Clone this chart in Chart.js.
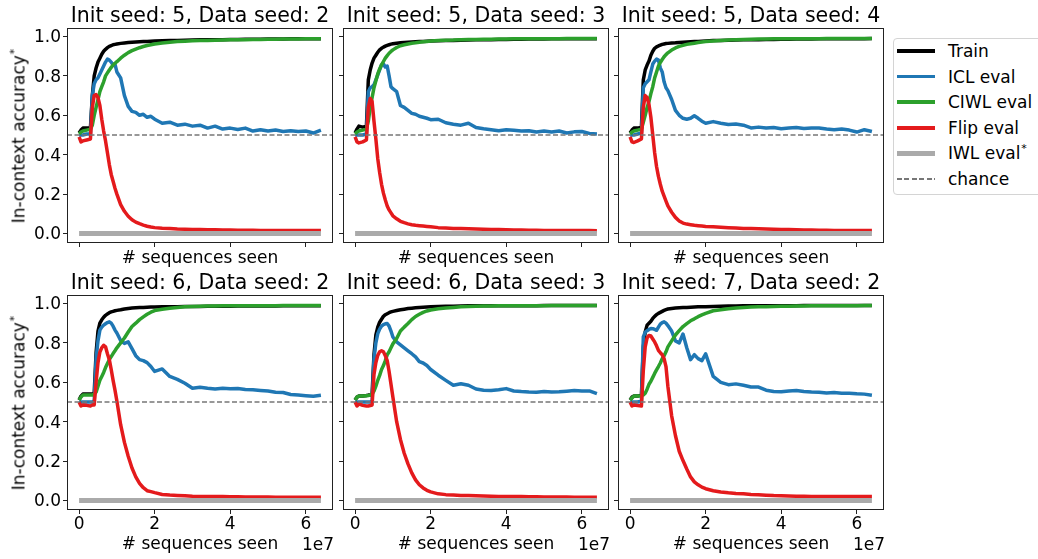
<!DOCTYPE html>
<html>
<head>
<meta charset="utf-8">
<script src="https://cdn.jsdelivr.net/npm/chart.js@4.4.0/dist/chart.umd.min.js"></script>
<style>
  body { margin: 0; width: 1038px; height: 559px; overflow: hidden; background: #fff;
         font-family: 'DejaVu Sans', sans-serif; position: relative; color: #000; }
  .panel { position: absolute; }
  .ylab { position: absolute; font-size: 17px; white-space: nowrap; line-height: 20px;
          transform: translate(-50%, -50%) rotate(-90deg); }
  .star { font-size: 11px; position: relative; top: -7px; margin-left: 1px; }
  .offset { position: absolute; font-size: 17px; line-height: 20px; }
  #legendBox { position: absolute; left: 893px; top: 38px; width: 170px; height: 155px;
               border: 1px solid #d4d4d4; border-radius: 4px; background: #fff; }
  .lgItem { position: absolute; left: 948px; font-size: 17px; line-height: 20px; white-space: nowrap; }
  .lgLine { position: absolute; left: 897px; width: 38px; }
</style>
</head>
<body>
<div id="legendBox"></div>
<script>
// x in units of 1e7 sequences
const xs = [0, 0.05, 0.1, 0.2, 0.3,
  0.35, 0.4, 0.45, 0.5, 0.55, 0.6, 0.65, 0.7, 0.75, 0.8, 0.85, 0.9, 0.95, 1.0,
  1.1, 1.2, 1.3, 1.4, 1.5, 1.6, 1.7, 1.8, 1.9, 2.0,
  2.2, 2.4, 2.6, 2.8, 3.0, 3.2, 3.4, 3.6, 3.8, 4.0, 4.2, 4.4, 4.6, 4.8, 5.0, 5.2, 5.4, 5.6, 5.8, 6.0, 6.2, 6.4];

const iwlEval = [0, 0, 0, 0, 0,
  0, 0, 0, 0, 0, 0, 0, 0, 0, 0, 0, 0, 0, 0,
  0, 0, 0, 0, 0, 0, 0, 0, 0, 0,
  0, 0, 0, 0, 0, 0, 0, 0, 0, 0, 0, 0, 0, 0, 0, 0, 0, 0, 0, 0, 0, 0];

// Init seed 5, data seed 2
const train_5_2 = [0.51, 0.525, 0.535, 0.535, 0.535,
  0.70, 0.80, 0.84, 0.87, 0.89, 0.91, 0.925, 0.935, 0.943, 0.95, 0.954, 0.958, 0.96, 0.962,
  0.965, 0.967, 0.969, 0.971, 0.972, 0.973, 0.974, 0.975, 0.976, 0.977,
  0.978, 0.979, 0.98, 0.981, 0.982, 0.983, 0.983, 0.984, 0.984, 0.985, 0.985, 0.986, 0.986, 0.986, 0.987, 0.987, 0.987, 0.988, 0.988, 0.988, 0.988, 0.988];
const icl_5_2 = [0.5, 0.5, 0.5, 0.505, 0.505,
  0.70, 0.76, 0.78, 0.79, 0.81, 0.83, 0.85, 0.87, 0.885, 0.88, 0.87, 0.855, 0.86, 0.82,
  0.79, 0.70, 0.645, 0.62, 0.615, 0.60, 0.605, 0.59, 0.595, 0.58,
  0.56, 0.565, 0.55, 0.555, 0.545, 0.55, 0.535, 0.545, 0.53, 0.535, 0.528, 0.535, 0.52, 0.527, 0.52, 0.525, 0.518, 0.522, 0.518, 0.52, 0.51, 0.525];
const ciwl_5_2 = [0.505, 0.515, 0.52, 0.525, 0.53,
  0.55, 0.6, 0.64, 0.68, 0.72, 0.745, 0.77, 0.8, 0.815, 0.83, 0.843, 0.855, 0.864, 0.872,
  0.89, 0.905, 0.918, 0.928, 0.936, 0.943, 0.949, 0.954, 0.958, 0.962,
  0.967, 0.971, 0.974, 0.976, 0.978, 0.979, 0.98, 0.981, 0.982, 0.983, 0.984, 0.984, 0.985, 0.985, 0.986, 0.986, 0.987, 0.987, 0.987, 0.988, 0.988, 0.988];
const flip_5_2 = [0.49, 0.465, 0.47, 0.475, 0.48,
  0.64, 0.70, 0.705, 0.69, 0.65, 0.58, 0.52, 0.47, 0.41, 0.35, 0.30, 0.265, 0.23, 0.20,
  0.147, 0.113, 0.088, 0.07, 0.058, 0.05, 0.043, 0.037, 0.033, 0.03,
  0.027, 0.025, 0.023, 0.022, 0.021, 0.02, 0.019, 0.019, 0.018, 0.018, 0.017, 0.017, 0.017, 0.016, 0.016, 0.016, 0.016, 0.015, 0.015, 0.015, 0.015, 0.015];

// Init seed 5, data seed 3
const train_5_3 = [0.51, 0.53, 0.545, 0.54, 0.545,
  0.78, 0.83, 0.865, 0.89, 0.905, 0.92, 0.932, 0.94, 0.946, 0.951, 0.955, 0.958, 0.961, 0.963,
  0.966, 0.968, 0.97, 0.971, 0.972, 0.973, 0.974, 0.975, 0.976, 0.977,
  0.978, 0.979, 0.98, 0.981, 0.982, 0.983, 0.983, 0.984, 0.985, 0.985, 0.986, 0.986, 0.987, 0.987, 0.987, 0.988, 0.988, 0.988, 0.989, 0.989, 0.989, 0.989];
const icl_5_3 = [0.5, 0.5, 0.5, 0.5, 0.505,
  0.72, 0.74, 0.745, 0.755, 0.78, 0.805, 0.83, 0.856, 0.86, 0.845, 0.85, 0.80, 0.745, 0.735,
  0.72, 0.65, 0.64, 0.625, 0.61, 0.605, 0.595, 0.59, 0.585, 0.578,
  0.58, 0.562, 0.555, 0.55, 0.56, 0.538, 0.532, 0.527, 0.522, 0.527, 0.524, 0.52, 0.522, 0.515, 0.52, 0.515, 0.52, 0.51, 0.516, 0.518, 0.508, 0.505];
const ciwl_5_3 = [0.505, 0.515, 0.52, 0.525, 0.53,
  0.57, 0.64, 0.69, 0.74, 0.775, 0.81, 0.835, 0.856, 0.873, 0.89, 0.903, 0.915, 0.924, 0.932,
  0.944, 0.953, 0.958, 0.962, 0.966, 0.968, 0.971, 0.973, 0.975, 0.977,
  0.979, 0.981, 0.982, 0.984, 0.985, 0.985, 0.986, 0.986, 0.987, 0.987, 0.988, 0.988, 0.988, 0.989, 0.989, 0.989, 0.989, 0.99, 0.99, 0.99, 0.99, 0.99];
const flip_5_3 = [0.49, 0.465, 0.46, 0.465, 0.475,
  0.64, 0.685, 0.67, 0.57, 0.48, 0.38, 0.31, 0.25, 0.205, 0.17, 0.14, 0.12, 0.105, 0.09,
  0.075, 0.062, 0.055, 0.049, 0.045, 0.042, 0.04, 0.038, 0.036, 0.034,
  0.03, 0.028, 0.026, 0.025, 0.024, 0.023, 0.022, 0.021, 0.02, 0.019, 0.018, 0.018, 0.017, 0.017, 0.016, 0.016, 0.016, 0.015, 0.015, 0.015, 0.015, 0.014];

// Init seed 5, data seed 4
const train_5_4 = [0.51, 0.525, 0.535, 0.535, 0.54,
  0.78, 0.83, 0.855, 0.875, 0.905, 0.925, 0.94, 0.947, 0.952, 0.956, 0.96, 0.962, 0.964, 0.965,
  0.967, 0.968, 0.97, 0.971, 0.972, 0.973, 0.974, 0.975, 0.976, 0.977,
  0.979, 0.98, 0.981, 0.982, 0.983, 0.984, 0.984, 0.985, 0.985, 0.986, 0.986, 0.987, 0.987, 0.987, 0.988, 0.988, 0.988, 0.989, 0.989, 0.989, 0.989, 0.99];
const icl_5_4 = [0.5, 0.5, 0.5, 0.505, 0.51,
  0.74, 0.76, 0.77, 0.78, 0.82, 0.86, 0.875, 0.885, 0.88, 0.84, 0.82, 0.77, 0.74, 0.725,
  0.68, 0.625, 0.60, 0.585, 0.58, 0.585, 0.598, 0.585, 0.57, 0.56,
  0.568, 0.56, 0.553, 0.556, 0.55, 0.536, 0.54, 0.535, 0.538, 0.532, 0.535, 0.538, 0.533, 0.535, 0.535, 0.53, 0.527, 0.53, 0.525, 0.515, 0.527, 0.518];
const ciwl_5_4 = [0.505, 0.515, 0.52, 0.525, 0.53,
  0.565, 0.6, 0.64, 0.67, 0.71, 0.745, 0.79, 0.82, 0.85, 0.868, 0.883, 0.897, 0.908, 0.917,
  0.931, 0.942, 0.95, 0.955, 0.96, 0.963, 0.966, 0.969, 0.972, 0.974,
  0.977, 0.98, 0.982, 0.984, 0.985, 0.986, 0.987, 0.987, 0.988, 0.988, 0.988, 0.989, 0.989, 0.989, 0.989, 0.99, 0.99, 0.99, 0.99, 0.99, 0.99, 0.99];
const flip_5_4 = [0.49, 0.465, 0.462, 0.47, 0.48,
  0.64, 0.70, 0.69, 0.655, 0.59, 0.50, 0.41, 0.34, 0.29, 0.25, 0.215, 0.19, 0.165, 0.14,
  0.108, 0.082, 0.064, 0.053, 0.048, 0.045, 0.042, 0.04, 0.038, 0.036,
  0.034, 0.032, 0.03, 0.028, 0.026, 0.025, 0.024, 0.023, 0.022, 0.021, 0.02, 0.019, 0.018, 0.018, 0.017, 0.017, 0.016, 0.016, 0.016, 0.015, 0.015, 0.015];

// Init seed 6, data seed 2
const train_6_2 = [0.51, 0.53, 0.54, 0.54, 0.54,
  0.54, 0.545, 0.75, 0.86, 0.9, 0.917, 0.93, 0.94, 0.947, 0.953, 0.957, 0.96, 0.963, 0.965,
  0.968, 0.972, 0.975, 0.977, 0.978, 0.979, 0.98, 0.981, 0.982, 0.982,
  0.983, 0.984, 0.984, 0.985, 0.985, 0.985, 0.986, 0.986, 0.986, 0.986, 0.987, 0.987, 0.987, 0.987, 0.987, 0.987, 0.988, 0.988, 0.988, 0.988, 0.988, 0.988];
const icl_6_2 = [0.5, 0.5, 0.5, 0.5, 0.5,
  0.5, 0.505, 0.72, 0.81, 0.865, 0.88, 0.89, 0.897, 0.903, 0.907, 0.9, 0.885, 0.865, 0.85,
  0.812, 0.797, 0.805, 0.771, 0.735, 0.715, 0.71, 0.70, 0.68, 0.655,
  0.668, 0.63, 0.615, 0.595, 0.57, 0.575, 0.57, 0.566, 0.57, 0.567, 0.568, 0.563, 0.562, 0.559, 0.556, 0.55, 0.548, 0.538, 0.535, 0.532, 0.529, 0.534];
const ciwl_6_2 = [0.51, 0.525, 0.535, 0.535, 0.535,
  0.535, 0.54, 0.55, 0.58, 0.61, 0.63, 0.65, 0.675, 0.695, 0.715, 0.73, 0.746, 0.76, 0.775,
  0.80, 0.825, 0.855, 0.883, 0.90, 0.918, 0.932, 0.945, 0.956, 0.964,
  0.971, 0.976, 0.98, 0.983, 0.985, 0.986, 0.987, 0.987, 0.988, 0.988, 0.988, 0.989, 0.989, 0.989, 0.989, 0.989, 0.99, 0.99, 0.99, 0.99, 0.99, 0.99];
const flip_6_2 = [0.5, 0.48, 0.485, 0.483, 0.48,
  0.485, 0.485, 0.6, 0.70, 0.754, 0.775, 0.788, 0.78, 0.745, 0.715, 0.665, 0.61, 0.56, 0.505,
  0.385, 0.295, 0.225, 0.165, 0.12, 0.087, 0.065, 0.05, 0.045, 0.04,
  0.031, 0.028, 0.026, 0.024, 0.022, 0.021, 0.021, 0.02, 0.02, 0.019, 0.019, 0.018, 0.018, 0.018, 0.018, 0.017, 0.017, 0.017, 0.017, 0.017, 0.017, 0.017];

// Init seed 6, data seed 3
const train_6_3 = [0.51, 0.525, 0.53, 0.53, 0.533,
  0.535, 0.535, 0.54, 0.74, 0.84, 0.88, 0.905, 0.92, 0.935, 0.943, 0.948, 0.953, 0.957, 0.96,
  0.964, 0.968, 0.971, 0.974, 0.976, 0.978, 0.98, 0.981, 0.982, 0.983,
  0.985, 0.986, 0.986, 0.987, 0.988, 0.988, 0.988, 0.988, 0.989, 0.989, 0.989, 0.989, 0.989, 0.989, 0.99, 0.99, 0.99, 0.99, 0.99, 0.99, 0.99, 0.99];
const icl_6_3 = [0.5, 0.5, 0.5, 0.5, 0.5,
  0.5, 0.5, 0.505, 0.72, 0.80, 0.847, 0.87, 0.885, 0.893, 0.897, 0.898, 0.885, 0.86, 0.83,
  0.805, 0.79, 0.775, 0.76, 0.745, 0.729, 0.705, 0.698, 0.685, 0.665,
  0.636, 0.61, 0.585, 0.593, 0.585, 0.566, 0.56, 0.559, 0.562, 0.568, 0.556, 0.553, 0.551, 0.55, 0.553, 0.551, 0.552, 0.555, 0.558, 0.556, 0.556, 0.542];
const ciwl_6_3 = [0.51, 0.525, 0.53, 0.53, 0.532,
  0.533, 0.535, 0.54, 0.555, 0.58, 0.61, 0.635, 0.665, 0.685, 0.71, 0.74, 0.755, 0.775, 0.795,
  0.822, 0.86, 0.88, 0.898, 0.918, 0.934, 0.945, 0.955, 0.962, 0.967,
  0.973, 0.977, 0.98, 0.983, 0.985, 0.986, 0.987, 0.987, 0.988, 0.988, 0.988, 0.989, 0.989, 0.989, 0.989, 0.99, 0.99, 0.99, 0.99, 0.99, 0.99, 0.99];
const flip_6_3 = [0.5, 0.48, 0.49, 0.483, 0.48,
  0.48, 0.482, 0.485, 0.64, 0.70, 0.737, 0.755, 0.76, 0.755, 0.735, 0.71, 0.655, 0.59, 0.525,
  0.40, 0.31, 0.24, 0.186, 0.14, 0.105, 0.08, 0.064, 0.052, 0.044,
  0.034, 0.03, 0.028, 0.026, 0.025, 0.024, 0.023, 0.022, 0.021, 0.021, 0.02, 0.02, 0.019, 0.019, 0.018, 0.018, 0.018, 0.018, 0.017, 0.017, 0.017, 0.017];

// Init seed 7, data seed 2
const train_7_2 = [0.51, 0.525, 0.53, 0.53, 0.535,
  0.78, 0.855, 0.89, 0.90, 0.91, 0.924, 0.935, 0.943, 0.95, 0.955, 0.96, 0.965, 0.969, 0.972,
  0.975, 0.977, 0.978, 0.979, 0.98, 0.981, 0.982, 0.983, 0.984, 0.984,
  0.985, 0.986, 0.987, 0.987, 0.988, 0.988, 0.988, 0.989, 0.989, 0.989, 0.989, 0.989, 0.99, 0.99, 0.99, 0.99, 0.99, 0.99, 0.99, 0.99, 0.99, 0.99];
const icl_7_2 = [0.5, 0.5, 0.5, 0.5, 0.505,
  0.83, 0.855, 0.862, 0.868, 0.873, 0.872, 0.868, 0.864, 0.88, 0.895, 0.903, 0.907, 0.9, 0.888,
  0.86, 0.81, 0.80, 0.845, 0.775, 0.715, 0.74, 0.72, 0.71, 0.745,
  0.63, 0.60, 0.588, 0.592, 0.585, 0.576, 0.576, 0.56, 0.553, 0.552, 0.556, 0.558, 0.553, 0.551, 0.55, 0.546, 0.548, 0.545, 0.545, 0.542, 0.54, 0.534];
const ciwl_7_2 = [0.51, 0.52, 0.53, 0.53, 0.532,
  0.536, 0.545, 0.565, 0.59, 0.605, 0.625, 0.645, 0.663, 0.68, 0.698, 0.72, 0.735, 0.755, 0.78,
  0.81, 0.84, 0.862, 0.883, 0.898, 0.912, 0.922, 0.933, 0.942, 0.95,
  0.963, 0.968, 0.973, 0.977, 0.98, 0.982, 0.983, 0.984, 0.985, 0.986, 0.986, 0.987, 0.987, 0.988, 0.988, 0.988, 0.989, 0.989, 0.989, 0.989, 0.99, 0.99];
const flip_7_2 = [0.5, 0.48, 0.485, 0.482, 0.48,
  0.66, 0.78, 0.825, 0.838, 0.835, 0.82, 0.805, 0.785, 0.762, 0.75, 0.74, 0.72, 0.68, 0.58,
  0.43, 0.33, 0.25, 0.203, 0.16, 0.12, 0.095, 0.08, 0.068, 0.06,
  0.05, 0.043, 0.039, 0.036, 0.034, 0.031, 0.029, 0.027, 0.025, 0.024, 0.023, 0.022, 0.022, 0.021, 0.021, 0.02, 0.02, 0.02, 0.02, 0.02, 0.02, 0.02];

const xTicks = [0, 2, 4, 6];
const yTicks = [0, 0.2, 0.4, 0.6, 0.8, 1.0];
const xLimits = [-0.32, 6.72];
const yLimits = [-0.048, 1.043];
const chanceLevel = 0.5;

const seriesNames = ['Train', 'ICL eval', 'CIWL eval', 'Flip eval', 'IWL eval'];
const seriesColors = ['#000000', '#1f77b4', '#2ca02c', '#e41a1c', '#aaaaaa'];
const seriesWidths = [3.5, 3.5, 3.5, 3.5, 5];

const runs = [
  { title: 'Init seed: 5, Data seed: 2', series: [train_5_2, icl_5_2, ciwl_5_2, flip_5_2, iwlEval] },
  { title: 'Init seed: 5, Data seed: 3', series: [train_5_3, icl_5_3, ciwl_5_3, flip_5_3, iwlEval] },
  { title: 'Init seed: 5, Data seed: 4', series: [train_5_4, icl_5_4, ciwl_5_4, flip_5_4, iwlEval] },
  { title: 'Init seed: 6, Data seed: 2', series: [train_6_2, icl_6_2, ciwl_6_2, flip_6_2, iwlEval] },
  { title: 'Init seed: 6, Data seed: 3', series: [train_6_3, icl_6_3, ciwl_6_3, flip_6_3, iwlEval] },
  { title: 'Init seed: 7, Data seed: 2', series: [train_7_2, icl_7_2, ciwl_7_2, flip_7_2, iwlEval] }
];

// layout
const FONT = 'DejaVu Sans';
const colLeft = [67, 343, 618];
const rowTop = [28, 295];
const AX_W = 266, AX_H = 215;
const Y_AXIS_W = 60, TITLE_H = 28, RIGHT_PAD = 10;
const xAxisH = [26, 45];

const framePlugin = {
  id: 'frame',
  afterDraw(chart) {
    const { ctx, chartArea: a } = chart;
    ctx.save();
    ctx.strokeStyle = '#222';
    ctx.lineWidth = 1;
    const l = Math.round(a.left) + 0.5, t = Math.round(a.top) + 0.5;
    const r = Math.round(a.right) - 0.5, b = Math.round(a.bottom) - 0.5;
    ctx.strokeRect(l, t, r - l, b - t);
    ctx.restore();
  }
};

runs.forEach((run, k) => {
  const row = Math.floor(k / 3), col = k % 3;
  const bottomRow = row === 1, leftCol = col === 0;
  const w = Y_AXIS_W + AX_W + RIGHT_PAD;
  const h = TITLE_H + AX_H + xAxisH[row];

  const div = document.createElement('div');
  div.className = 'panel';
  div.style.left = (colLeft[col] - Y_AXIS_W) + 'px';
  div.style.top = (rowTop[row] - TITLE_H) + 'px';
  const canvas = document.createElement('canvas');
  canvas.width = w; canvas.height = h;
  div.appendChild(canvas);
  document.body.appendChild(div);

  const datasets = run.series.map((ys, i) => ({
    label: seriesNames[i],
    data: xs.map((x, j) => ({ x: x, y: ys[j] })),
    borderColor: seriesColors[i],
    borderWidth: seriesWidths[i],
    pointRadius: 0,
    tension: 0,
    borderJoinStyle: 'round',
    order: 5 - i
  }));
  datasets.push({
    label: 'chance',
    data: [{ x: xLimits[0], y: chanceLevel }, { x: xLimits[1], y: chanceLevel }],
    borderColor: '#777777',
    borderWidth: 1.3,
    borderDash: [5, 2.5],
    pointRadius: 0,
    order: 0
  });

  new Chart(canvas, {
    type: 'line',
    data: { datasets: datasets },
    options: {
      responsive: false,
      animation: false,
      layout: { padding: { left: 0, right: RIGHT_PAD, top: 0, bottom: 0 } },
      plugins: {
        legend: { display: false },
        tooltip: { enabled: false },
        title: {
          display: true,
          text: run.title,
          fullSize: false,
          color: '#000',
          font: { family: FONT, size: 20.5, weight: 'normal', lineHeight: 1 },
          padding: { top: 6.5, bottom: 1 }
        }
      },
      scales: {
        x: {
          type: 'linear',
          min: xLimits[0],
          max: xLimits[1],
          afterBuildTicks: s => { s.ticks = xTicks.map(v => ({ value: v })); },
          afterFit: s => { s.height = xAxisH[row]; },
          border: { display: false },
          grid: { drawOnChartArea: false, drawTicks: true, tickLength: 4, color: '#222', lineWidth: 1 },
          ticks: {
            display: bottomRow,
            color: '#000',
            padding: 0,
            maxRotation: 0,
            font: { family: FONT, size: 17, lineHeight: 1.2 },
            callback: v => String(v)
          },
          title: {
            display: true,
            text: '# sequences seen',
            color: '#000',
            font: { family: FONT, size: 17, lineHeight: 1.2 },
            padding: { top: 0, bottom: 0 }
          }
        },
        y: {
          type: 'linear',
          min: yLimits[0],
          max: yLimits[1],
          afterBuildTicks: s => { s.ticks = yTicks.map(v => ({ value: v })); },
          afterFit: s => { s.width = Y_AXIS_W; },
          border: { display: false },
          grid: { drawOnChartArea: false, drawTicks: true, tickLength: 4, color: '#222', lineWidth: 1 },
          ticks: {
            display: leftCol,
            color: '#000',
            padding: 2,
            labelOffset: 1.5,
            font: { family: FONT, size: 17, lineHeight: 1.2 },
            callback: v => v.toFixed(1)
          }
        }
      }
    },
    plugins: [framePlugin]
  });

  if (leftCol) {
    const yl = document.createElement('div');
    yl.className = 'ylab';
    yl.style.left = '20px';
    yl.style.top = (rowTop[row] + AX_H / 2) + 'px';
    yl.innerHTML = 'In-context accuracy<span class="star">*</span>';
    document.body.appendChild(yl);
  }
  if (bottomRow) {
    const off = document.createElement('div');
    off.className = 'offset';
    off.textContent = '1e7';
    off.style.left = (colLeft[col] + AX_W - 31) + 'px';
    off.style.top = '534px';
    document.body.appendChild(off);
  }
});

// legend
const legendNames = seriesNames.concat(['chance']);
legendNames.forEach((name, i) => {
  const cy = 51 + i * 25.6;
  const line = document.createElement('div');
  line.className = 'lgLine';
  if (name === 'chance') {
    line.style.height = '1.3px';
    line.style.top = (cy - 0.65) + 'px';
    line.style.background = 'repeating-linear-gradient(to right, #777 0 5px, transparent 5px 7.5px)';
  } else {
    const lw = seriesWidths[i];
    line.style.height = lw + 'px';
    line.style.top = (cy - lw / 2) + 'px';
    line.style.background = seriesColors[i];
  }
  document.body.appendChild(line);
  const label = document.createElement('div');
  label.className = 'lgItem';
  label.style.top = (cy - 10) + 'px';
  label.innerHTML = name === 'IWL eval' ? 'IWL eval<span class="star">*</span>' : name;
  document.body.appendChild(label);
});
</script>
</body>
</html>
